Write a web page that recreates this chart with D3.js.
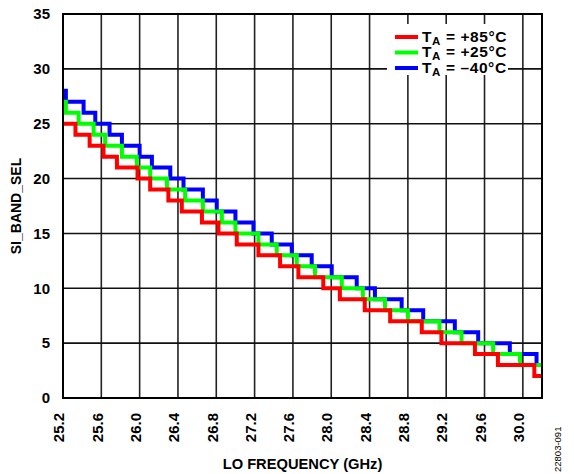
<!DOCTYPE html>
<html>
<head>
<meta charset="utf-8">
<script src="https://cdn.jsdelivr.net/npm/d3@7"></script>
<style>
  body { margin: 0; background: #fff; }
  text { font-family: Arial, "Liberation Sans", sans-serif; font-weight: bold; }
</style>
</head>
<body>
<div id="holder"></div>
<script>
// step edges (GHz) and the SI_BAND_SEL value that starts at each edge
var redFreq   = [25.2, 25.33, 25.478, 25.623, 25.763, 25.978, 26.11, 26.30, 26.44, 26.65, 26.823, 27.014, 27.24, 27.466, 27.657, 27.917, 28.09, 28.35, 28.615, 28.945, 29.15, 29.50, 29.74, 30.12, 30.2];
var redVal    = [25, 24, 23, 22, 21, 20, 19, 18, 17, 16, 15, 14, 13, 12, 11, 10, 9, 8, 7, 6, 5, 4, 3, 2, 2];
var greenFreq = [25.2, 25.23, 25.363, 25.52, 25.64, 25.815, 25.97, 26.11, 26.285, 26.475, 26.66, 26.858, 27.0, 27.24, 27.431, 27.64, 27.83, 28.11, 28.33, 28.561, 28.80, 29.13, 29.36, 29.69, 29.97, 30.2];
var greenVal  = [27, 26, 25, 24, 23, 22, 21, 20, 19, 18, 17, 16, 15, 14, 13, 12, 11, 10, 9, 8, 7, 6, 5, 4, 3, 3];
var blueFreq  = [25.2, 25.23, 25.415, 25.537, 25.686, 25.815, 26.0, 26.128, 26.32, 26.458, 26.66, 26.805, 27.0, 27.188, 27.379, 27.588, 27.796, 28.005, 28.266, 28.456, 28.735, 28.96, 29.29, 29.534, 29.864, 30.143, 30.2];
var blueVal   = [28, 27, 26, 25, 24, 23, 22, 21, 20, 19, 18, 17, 16, 15, 14, 13, 12, 11, 10, 9, 8, 7, 6, 5, 4, 3, 3];

var xTicks = [25.2, 25.6, 26.0, 26.4, 26.8, 27.2, 27.6, 28.0, 28.4, 28.8, 29.2, 29.6, 30.0];
var yTicks = [0, 5, 10, 15, 20, 25, 30, 35];
var legendLabels = ["+85°C", "+25°C", "\u201340°C"];

var margin = {top: 14, right: 32, bottom: 76, left: 63};
var fullWidth = 574;
var fullHeight = 474;
var width = fullWidth - margin.left - margin.right;
var height = fullHeight - margin.top - margin.bottom;

var root = d3.select('#holder').append('svg')
  .attr('width', fullWidth)
  .attr('height', fullHeight);

var svg = root.append('g')
  .attr('transform', 'translate(' + margin.left + ',' + margin.top + ')');

var x = d3.scaleLinear().domain([25.2, 30.2]).range([0, width]);
var y = d3.scaleLinear().domain([0, 35]).range([height, 0]);

// grid
svg.selectAll('.vgrid').data(xTicks.slice(1)).enter().append('line')
  .attr('x1', function(d) { return x(d); }).attr('x2', function(d) { return x(d); })
  .attr('y1', 0).attr('y2', height)
  .attr('stroke', '#222').attr('stroke-width', 1.6);
svg.selectAll('.hgrid').data(yTicks.slice(1, -1)).enter().append('line')
  .attr('x1', 0).attr('x2', width)
  .attr('y1', function(d) { return y(d); }).attr('y2', function(d) { return y(d); })
  .attr('stroke', '#111').attr('stroke-width', 1.6);

// axes (labels only, grid does the lines)
var yAxis = svg.append('g').call(d3.axisLeft(y).tickValues(yTicks).tickSize(0).tickPadding(13));
yAxis.select('.domain').remove();
yAxis.selectAll('text').attr('font-size', 15).attr('fill', '#000')
  .style('font-family', 'Arial, "Liberation Sans", sans-serif').style('font-weight', 'bold');

var xAxis = svg.append('g').attr('transform', 'translate(0,' + height + ')')
  .call(d3.axisBottom(x).tickValues(xTicks).tickSize(0).tickFormat(d3.format('.1f')));
xAxis.select('.domain').remove();
xAxis.selectAll('text')
  .attr('font-size', 15).attr('fill', '#000')
  .style('font-family', 'Arial, "Liberation Sans", sans-serif').style('font-weight', 'bold')
  .attr('text-anchor', 'end')
  .attr('transform', 'rotate(-90)')
  .attr('x', -15).attr('y', 0).attr('dy', '0.05em');

// series
var series = [
  {f: blueFreq, v: blueVal, c: '#0000ff'},
  {f: greenFreq, v: greenVal, c: '#00ff00'},
  {f: redFreq, v: redVal, c: '#ff0000'}
];
var line = d3.line()
  .x(function(d) { return x(d[0]); })
  .y(function(d) { return y(d[1]); })
  .curve(d3.curveStepAfter);

series.forEach(function(s) {
  svg.append('path')
    .datum(d3.zip(s.f, s.v))
    .attr('fill', 'none')
    .attr('stroke', s.c)
    .attr('stroke-width', 4)
    .attr('d', line);
});

// legend
var lg = svg.append('g').attr('transform', 'translate(' + (387 - margin.left) + ',' + (24 - margin.top) + ')');
lg.append('rect').attr('width', 121).attr('height', 51).attr('fill', '#fff');
var legendColors = ['#ff0000', '#00ff00', '#0000ff'];
legendLabels.forEach(function(lbl, i) {
  var row = lg.append('g').attr('transform', 'translate(0,' + (13 + i * 15.5) + ')');
  row.append('line').attr('x1', 8).attr('x2', 31).attr('y1', 0).attr('y2', 0)
    .attr('stroke', legendColors[i]).attr('stroke-width', 4);
  var t = row.append('text').attr('x', 35).attr('y', 4.5).attr('font-size', 14)
    .style('letter-spacing', '0.6px');
  t.append('tspan').attr('font-size', 15.5).text('T');
  t.append('tspan').attr('font-size', 11.5).attr('dy', 3).text('A');
  t.append('tspan').attr('dy', -3).attr('font-size', 15.5).text(' = ' + lbl);
});

// frame
svg.append('rect').attr('width', width).attr('height', height)
  .attr('fill', 'none').attr('stroke', '#000').attr('stroke-width', 2);

// titles
root.append('text')
  .attr('transform', 'translate(' + (margin.left + width / 2) + ',464)')
  .attr('text-anchor', 'middle').attr('dy', '0.35em').attr('font-size', 14.7)
  .text('LO FREQUENCY (GHz)');
root.append('text')
  .attr('transform', 'translate(16,' + (margin.top + height / 2) + ') rotate(-90)')
  .attr('text-anchor', 'middle').attr('dy', '0.35em').attr('font-size', 14)
  .text('SI_BAND_SEL');
root.append('text')
  .attr('transform', 'translate(558,472) rotate(-90)')
  .attr('text-anchor', 'start').attr('dy', '0.35em').attr('font-size', 9.5)
  .style('font-weight', 'normal')
  .text('22803-091');
</script>
</body>
</html>
